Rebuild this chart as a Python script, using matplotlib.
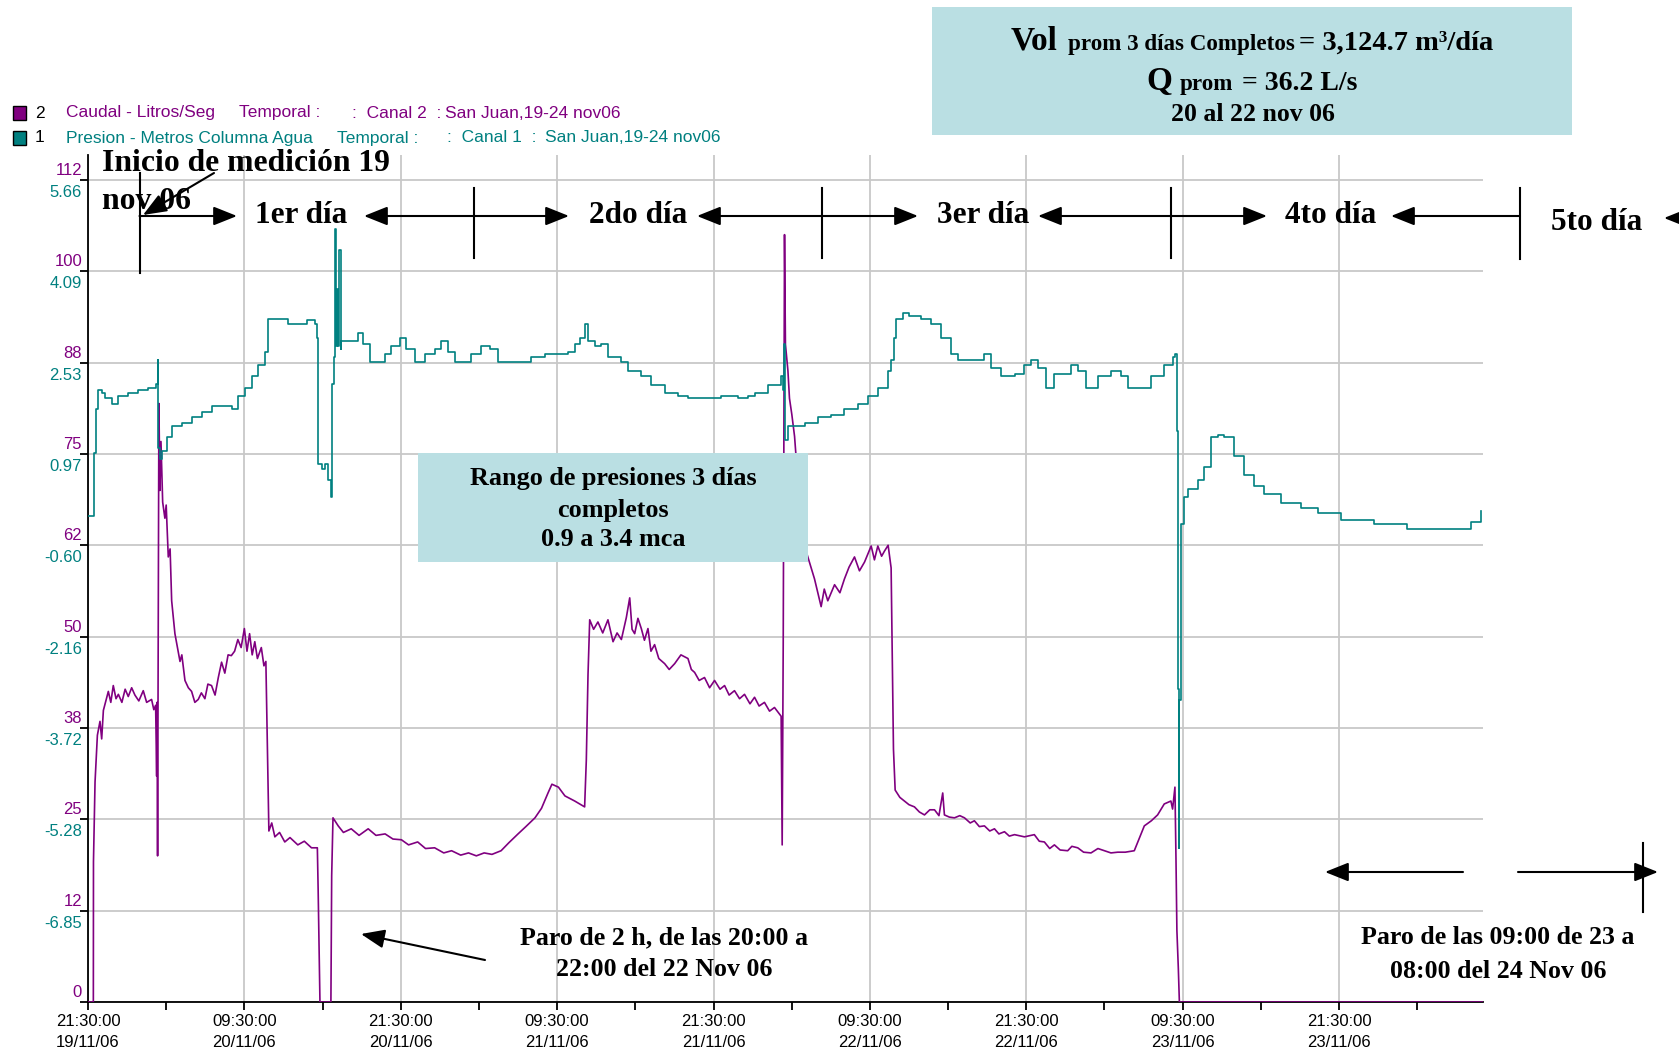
import matplotlib
matplotlib.use('Agg')
import matplotlib.pyplot as plt
from matplotlib.patches import Rectangle, FancyArrowPatch
from matplotlib.lines import Line2D

W, H = 1679, 1053
PURPLE = '#800080'
TEAL = '#008080'
BOXC = '#BADFE3'
SERIF = 'Liberation Serif'
SANS = 'Liberation Sans'

# caudal (L/s), hours from 21:30 19/11/06
flow_h = [0, 0.41, 0.42, 0.54, 0.72, 0.92, 1.05, 1.18, 1.56, 1.75, 1.94, 2.15, 2.33, 2.6, 2.85, 3.09, 3.35,
          3.6, 3.9, 4.24, 4.5, 4.88, 5.05, 5.19, 5.27, 5.30, 5.34, 5.40, 5.44, 5.52, 5.6, 5.73, 5.9, 6.0,
          6.16, 6.3, 6.42, 6.67, 7.06, 7.2, 7.44, 7.7, 7.95, 8.2, 8.46, 8.7, 8.97, 9.2, 9.48, 9.75, 10.0,
          10.25, 10.5, 10.75, 11.0, 11.25, 11.5, 11.75, 12.0, 12.2, 12.4, 12.6, 12.8, 13.0, 13.3, 13.5,
          13.65, 13.78, 13.88, 14.1, 14.34, 14.7, 15.1, 15.5, 16.1, 16.6, 17.15, 17.6, 17.66, 17.8, 18.64,
          18.7, 18.8, 19.2, 19.6, 20.2, 20.8, 21.5, 22.1, 22.8, 23.4, 24.05, 24.6, 25.3, 25.9, 26.6, 27.3,
          27.9, 28.6, 29.2, 29.8, 30.4, 31.0, 31.7, 32.3, 33.0, 33.6, 34.3, 34.8, 35.3, 35.6, 36.1, 36.6,
          37.35, 38.11, 38.24, 38.37, 38.5, 38.8, 39.13, 39.5, 39.9, 40.29, 40.6, 40.93, 41.31, 41.57,
          41.75, 41.95, 42.2, 42.46, 42.7, 42.97, 43.2, 43.48, 43.8, 44.25, 44.6, 45.02, 45.5, 46.04,
          46.3, 46.55, 46.9, 47.31, 47.7, 48.08, 48.5, 48.85, 49.2, 49.61, 50.0, 50.38, 50.8, 51.15, 51.5,
          51.91, 52.3, 52.68, 53.19, 53.27, 53.35, 53.45, 53.52, 53.71, 53.83, 54.01, 54.22, 54.47, 54.73,
          55.24, 55.75, 56.26, 56.5, 56.77, 57.29, 57.7, 58.05, 58.4, 58.82, 59.2, 59.59, 60.1, 60.35,
          60.61, 60.9, 61.12, 61.4, 61.63, 61.81, 61.94, 62.3, 62.65, 63.0, 63.42, 63.8, 64.19, 64.6,
          64.96, 65.3, 65.59, 65.72, 66.1, 66.49, 66.9, 67.26, 67.7, 68.02, 68.4, 68.79, 69.2, 69.56,
          69.9, 70.33, 70.7, 71.1, 71.86, 72.62, 73.0, 73.39, 73.8, 74.16, 74.6, 75.18, 75.5, 75.95,
          76.4, 76.97, 77.5, 77.99, 78.5, 79.02, 79.6, 80.29, 80.7, 81.06, 81.6, 82.08, 82.59, 83.1,
          83.23, 83.41, 83.49, 83.56, 83.67, 83.75, 107.0]
flow_v = [0, 0, 19.2, 30.1, 36.5, 38.4, 36.0, 39.9, 42.5, 41.0, 43.3, 41.5, 42.1, 41.0, 42.8, 41.8, 43.0,
          42.0, 41.2, 42.6, 41.0, 41.4, 40.0, 40.6, 30.9, 41.0, 20.0, 60.0, 81.9, 70.0, 76.7, 68.4, 66.2, 68.0,
          60.9, 62.0, 54.9, 50.4, 46.6, 47.5, 44.0, 43.0, 42.5, 41.0, 41.4, 42.3, 41.5, 43.5, 43.3, 42.0, 44.4,
          46.5, 45.0, 47.5, 47.4, 48.0, 49.6, 48.5, 51.1, 48.0, 50.4, 47.5, 49.3, 47.0, 48.5, 46.0,
          46.6, 33.9, 23.4, 24.5, 22.6, 23.2, 21.9, 22.5, 21.5, 22.0, 21.1, 21.1, 15.5, 0, 0,
          17.3, 25.2, 24.1, 23.2, 23.7, 22.8, 23.7, 22.8, 23.0, 22.3, 22.2, 21.5, 21.9, 21.0, 21.1, 20.4,
          20.7, 20.1, 20.4, 20.0, 20.4, 20.2, 20.7, 21.8, 23.0, 24.0, 25.2, 26.5, 28.6, 29.8, 29.4, 28.2,
          27.5, 26.7, 33.1, 44.8, 52.3, 51.0, 52.0, 50.5, 52.3, 49.3, 50.5, 49.6, 52.6, 55.3,
          51.0, 50.4, 52.5, 51.1, 49.5, 51.1, 48.0, 48.9, 47.0, 46.3, 45.5, 46.3, 47.5, 47.0,
          45.5, 45.1, 44.0, 44.4, 43.0, 44.0, 42.8, 43.3, 42.0, 42.6, 41.5, 42.1, 40.8, 41.7, 40.5,
          41.0, 39.8, 40.3, 39.1, 21.5, 49.0, 105.0, 90.0, 86.4, 82.6, 80.4, 77.4, 71.4, 63.9,
          60.9, 57.9, 54.1, 56.5, 54.9, 57.1, 56.0, 57.9, 59.5, 60.9, 59.0, 60.2, 62.4, 60.5,
          62.4, 61.0, 61.7, 62.5, 59.4, 34.6, 29.0, 28.0, 27.5, 27.0, 26.7, 26.0, 25.6, 26.3,
          26.3, 25.5, 28.6, 25.6, 25.3, 25.2, 25.5, 25.2, 24.5, 24.8, 24.0, 24.1, 23.4, 23.7,
          23.0, 23.3, 22.7, 22.9, 22.6, 22.9, 22.0, 21.9, 21.0, 21.5, 20.8, 20.7, 21.3, 21.1,
          20.5, 20.4, 21.0, 20.7, 20.4, 20.5, 20.5, 20.7, 22.5, 24.1, 24.8, 25.6, 27.1, 27.5,
          26.4, 29.4, 19.6, 9.8, 4.6, 0, 0]

# presion (m.c.a.)
pres_h = [0, 0.41, 0.46, 0.59, 0.74, 1.05, 1.30, 1.81, 2.33, 3.09, 3.86, 4.63, 5.19, 5.34, 5.39, 5.52, 5.70,
          6.03, 6.42, 7.18, 7.95, 8.72, 9.48, 10.51, 11.02, 11.53, 12.04, 12.55, 13.06, 13.57, 13.83, 15.11,
          15.36, 16.39, 16.77, 17.41, 17.54, 17.66, 17.92, 18.17, 18.43, 18.64, 18.74, 18.86, 18.94, 19.02,
          19.12, 19.20, 19.27, 19.38, 19.45, 20.22, 20.73, 21.11, 21.63, 22.14, 22.78, 23.29, 23.93, 24.44,
          25.08, 25.84, 26.61, 27.12, 27.63, 28.14, 28.91, 29.42, 30.19, 30.83, 31.47, 32.23, 33.0, 34.02,
          35.05, 35.81, 36.84, 37.35, 37.73, 38.11, 38.37, 38.88, 39.39, 39.9, 40.93, 41.44, 42.46, 43.22,
          44.25, 45.27, 46.04, 47.31, 48.59, 49.87, 50.64, 51.15, 52.17, 53.19, 53.32, 53.40, 53.45, 53.50,
          53.71, 54.09, 55.0, 56.0, 57.03, 58.05, 59.08, 59.84, 60.61, 61.38, 61.63, 61.84, 62.01, 62.53,
          63.04, 63.93, 64.70, 65.47, 66.23, 66.75, 67.77, 68.79, 69.3, 70.07, 71.1, 71.86, 72.37, 72.88,
          73.52, 74.16, 75.43, 75.95, 76.58, 77.48, 78.50, 79.27, 79.78, 80.67, 81.57, 82.59, 83.23, 83.44,
          83.54, 83.62, 83.69, 83.75, 83.87, 84.08, 84.38, 85.15, 85.66, 86.17, 86.69, 87.19, 87.96, 88.73,
          89.50, 90.26, 91.54, 93.08, 94.35, 96.14, 98.7, 101.25, 105.6, 106.1, 106.88]
pres_v = [-0.10, -0.10, 0.98, 1.73, 2.06, 2.01, 1.92, 1.82, 1.96, 2.01, 2.06, 2.10, 2.16, 2.57, 1.07, 0.88, 1.01,
          1.26, 1.45, 1.49, 1.59, 1.68, 1.78, 1.78, 1.73, 1.96, 2.10, 2.29, 2.48, 2.71, 3.28, 3.28,
          3.18, 3.18, 3.25, 3.18, 2.95, 0.79, 0.70, 0.79, 0.51, 0.23, 2.16, 2.62, 4.82, 2.81,
          3.79, 2.81, 4.45, 2.76, 2.90, 2.90, 3.04, 2.85, 2.53, 2.53, 2.67, 2.81, 2.95, 2.76,
          2.53, 2.67, 2.76, 2.90, 2.71, 2.53, 2.53, 2.67, 2.81, 2.76, 2.53, 2.53, 2.53, 2.62,
          2.67, 2.67, 2.71, 2.85, 2.95, 3.18, 2.90, 2.81, 2.85, 2.62, 2.53, 2.39, 2.29, 2.15,
          2.01, 1.96, 1.92, 1.92, 1.96, 1.92, 1.96, 2.01, 2.15, 2.29, 2.06, 2.85, 2.57, 1.21,
          1.45, 1.45, 1.49, 1.59, 1.63, 1.73, 1.82, 1.96, 2.10, 2.39, 2.57, 2.95, 3.28, 3.37,
          3.32, 3.28, 3.18, 2.95, 2.67, 2.57, 2.57, 2.67, 2.43, 2.29, 2.34, 2.48, 2.57, 2.43,
          2.10, 2.34, 2.48, 2.39, 2.10, 2.29, 2.39, 2.29, 2.10, 2.10, 2.29, 2.48, 2.62, 2.67,
          1.36, -3.05, -5.77, -3.24, -0.24, 0.23, 0.37, 0.51, 0.74, 1.26, 1.28, 1.26, 0.93, 0.60,
          0.42, 0.28, 0.13, 0.04, -0.05, -0.17, -0.24, -0.32, -0.32, -0.20, -0.01]

flow_ticks = [0, 12.5, 25, 37.5, 50, 62.5, 75, 87.5, 100, 112.5]
flow_labels = ['0', '12', '25', '38', '50', '62', '75', '88', '100', '112']
pres_labels = ['', '-6.85', '-5.28', '-3.72', '-2.16', '-0.60', '0.97', '2.53', '4.09', '5.66']
x_major = [0, 12, 24, 36, 48, 60, 72, 84, 96]
x_minor = [6, 18, 30, 42, 54, 66, 78, 90, 102]
x_labels = ['21:30:00\n19/11/06', '09:30:00\n20/11/06', '21:30:00\n20/11/06', '09:30:00\n21/11/06',
            '21:30:00\n21/11/06', '09:30:00\n22/11/06', '21:30:00\n22/11/06', '09:30:00\n23/11/06',
            '21:30:00\n23/11/06']


def fx(x):
    return x / W


def fy(y):
    return 1 - y / H


fig = plt.figure(figsize=(W / 100, H / 100), dpi=100)
ax = fig.add_axes([fx(88), 51 / H, (1483 - 88) / W, (1002 - 155) / H])
ax.set_xlim(0, 107.05)
ax.set_ylim(0, 115.9)
ax2 = ax.twinx()
ax2.set_ylim(-8.41, 115.9 * 0.125 - 8.41)
ax2.axis('off')

ax.plot(flow_h, flow_v, color=PURPLE, lw=1.2, zorder=3)
ax2.plot(pres_h, pres_v, color=TEAL, lw=1.2, zorder=3, drawstyle='steps-post')

for s in ['top', 'right']:
    ax.spines[s].set_visible(False)
for s in ['left', 'bottom']:
    ax.spines[s].set_linewidth(1.3)

ax.set_xticks(x_major, x_labels, fontsize=12, family=SANS, linespacing=1.45)
ax.set_xticks(x_minor, minor=True)
ax.tick_params(axis='x', which='both', length=6, width=1.3, pad=3)
ax.set_yticks(flow_ticks, [''] * len(flow_ticks))
ax.tick_params(axis='y', length=6, width=1.3)
ax.grid(True, color='#c8c8c8', lw=1.3)
ax.set_axisbelow(True)

for v, fl, pl in zip(flow_ticks, flow_labels, pres_labels):
    ax.annotate(fl, xy=(0, v), xycoords=ax.get_yaxis_transform(), xytext=(-6, 2),
                textcoords='offset pixels', ha='right', va='bottom', color=PURPLE, fontsize=12, family=SANS)
    ax.annotate(pl, xy=(0, v), xycoords=ax.get_yaxis_transform(), xytext=(-6, -5),
                textcoords='offset pixels', ha='right', va='top', color=TEAL, fontsize=12, family=SANS)

# legend
for yy, c, num, parts, xs in [
        (113, PURPLE, '2', ['Caudal - Litros/Seg', 'Temporal :', ':  Canal 2  :', 'San Juan,19-24 nov06'], [66, 239, 352, 445]),
        (138, TEAL, '1', ['Presion - Metros Columna Agua', 'Temporal :', ':  Canal 1  :', 'San Juan,19-24 nov06'], [66, 337, 447, 545])]:
    fig.add_artist(Rectangle((fx(13), fy(yy + 7)), 13 / W, 14 / H, transform=fig.transFigure,
                             facecolor=c, edgecolor='black', lw=1))
    fig.text(fx(35), fy(yy), num, color='black', fontsize=12.5, family=SANS, va='center')
    for p, x in zip(parts, xs):
        fig.text(fx(x), fy(yy), p, color=c, fontsize=12.5, family=SANS, va='center')


def ftext(x, y, s, size, **kw):
    fig.text(fx(x), fy(y), s, fontsize=size, family=SERIF, fontweight='bold', zorder=5, **kw)


def arrow(x0, y0, x1, y1, both=False):
    style = '<|-|>' if both else '-|>'
    fig.add_artist(FancyArrowPatch((fx(x0), fy(y0)), (fx(x1), fy(y1)), transform=fig.transFigure,
                                   arrowstyle=style + ',head_length=0.9,head_width=0.36', mutation_scale=16,
                                   color='black', lw=1.5, shrinkA=0, shrinkB=0, zorder=5))


def vtick(x, y0, y1):
    fig.add_artist(Line2D([fx(x), fx(x)], [fy(y0), fy(y1)], transform=fig.transFigure, color='black',
                          lw=1.5, zorder=5))


# top box
fig.add_artist(Rectangle((fx(932), fy(135)), (1572 - 932) / W, (135 - 7) / H, transform=fig.transFigure,
                         facecolor=BOXC, edgecolor='none', zorder=4))
ftext(1011, 50, 'Vol', 24, va='baseline')
ftext(1068, 50, 'prom 3 días Completos', 16.6, va='baseline')
ftext(1299, 50, '= 3,124.7 m³/día', 20.5, va='baseline')
ftext(1146, 90, 'Q', 24, va='baseline')
ftext(1180, 90, 'prom', 16.6, va='baseline')
ftext(1242, 90, '= 36.2 L/s', 20, va='baseline')
ftext(1253, 121, '20 al 22 nov 06', 18.5, va='baseline', ha='center')

# days
ftext(102, 171, 'Inicio de medición 19', 22.8, va='baseline')
ftext(102, 209, 'nov 06', 22.8, va='baseline')
for x, lbl in [(255, '1er día'), (589, '2do día'), (937, '3er día'), (1285, '4to día')]:
    ftext(x, 216, lbl, 22.5, va='center')
ftext(1551, 223, '5to día', 22.5, va='center')

vtick(139.5, 173, 273)
arrow(139.5, 216, 237, 216)
arrow(214, 173, 143, 215)
for x0, xt, x1 in [(364, 474, 569), (697, 822, 918), (1038, 1171, 1267)]:
    arrow(x0, 216, x1, 216, both=True)
    vtick(xt, 188, 258)
arrow(1520, 216, 1391, 216)
vtick(1520, 188, 259)
arrow(1679, 218, 1664, 218)

# pressure range box
fig.add_artist(Rectangle((fx(418), fy(562)), (808 - 418) / W, (562 - 453) / H, transform=fig.transFigure,
                         facecolor=BOXC, edgecolor='none', zorder=4))
for y, s in [(479, 'Rango de presiones 3 días'), (510, 'completos'), (539, '0.9 a 3.4 mca')]:
    ftext(613, y, s, 18.8, ha='center', va='center')

# stops
for y, s in [(938, 'Paro de 2 h, de las 20:00 a'), (969, '22:00 del 22 Nov 06')]:
    ftext(664, y, s, 18.6, ha='center', va='center')
arrow(485, 960, 361, 934)

for y, s in [(938, 'Paro de las 09:00 de 23 a'), (972, '08:00 del 24 Nov 06')]:
    ftext(1498, y, s, 18.6, ha='center', va='center')
arrow(1463, 872, 1325, 872)
arrow(1518, 872, 1658, 872)
vtick(1643, 843, 912)

fig.savefig('out.png', dpi=100, facecolor='white')
